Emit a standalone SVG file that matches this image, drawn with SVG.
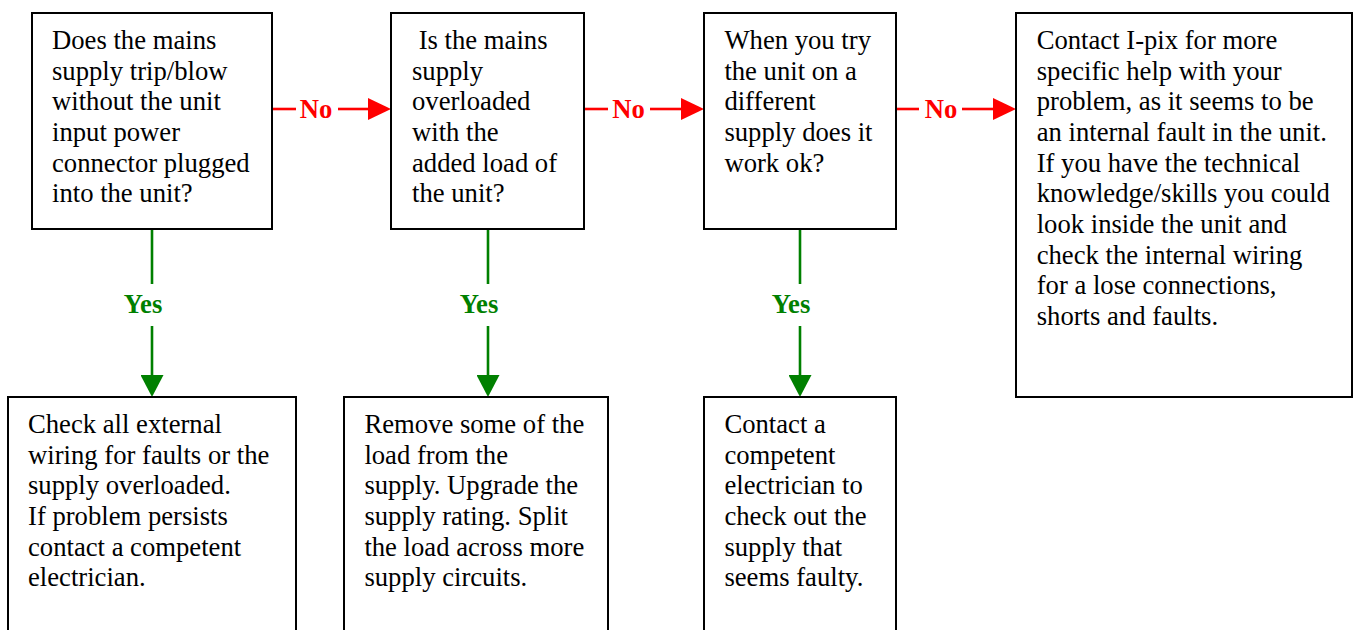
<svg xmlns="http://www.w3.org/2000/svg" width="1353" height="630" viewBox="0 0 1353 630">
<style>
.box{fill:#fff;stroke:#000;stroke-width:2}
.t{font-family:"Liberation Serif","Times New Roman",serif;font-size:26.67px;fill:#000}
.no{font-family:"Liberation Serif","Times New Roman",serif;font-size:26.67px;font-weight:bold;fill:#ff0000;text-anchor:middle}
.yes{font-family:"Liberation Serif","Times New Roman",serif;font-size:26.67px;font-weight:bold;fill:#008000;text-anchor:middle}
.rl{stroke:#ff0000;stroke-width:2.6;fill:none}
.gl{stroke:#008000;stroke-width:2.6;fill:none}
</style>
<defs>
<marker id="ar" markerUnits="userSpaceOnUse" viewBox="0 -11 23 22" refX="0" refY="0" markerWidth="23" markerHeight="22" orient="auto"><path d="M0,-11 L23,0 L0,11 Z" fill="#ff0000"/></marker>
<marker id="ag" markerUnits="userSpaceOnUse" viewBox="0 -11.5 22 23" refX="0" refY="0" markerWidth="22" markerHeight="23" orient="auto"><path d="M0,-11.5 L22,0 L0,11.5 Z" fill="#008000"/></marker>
</defs>
<rect width="1353" height="630" fill="#fff"/>
<g id="connectors">
<line class="rl" x1="272" y1="109" x2="296" y2="109"/>
<line class="rl" x1="338" y1="109" x2="368" y2="109" marker-end="url(#ar)"/>
<text class="no" x="316" y="118">No</text>
<line class="rl" x1="584" y1="109" x2="608" y2="109"/>
<line class="rl" x1="650" y1="109" x2="681" y2="109" marker-end="url(#ar)"/>
<text class="no" x="628.5" y="118">No</text>
<line class="rl" x1="896" y1="109" x2="919" y2="109"/>
<line class="rl" x1="962" y1="109" x2="993" y2="109" marker-end="url(#ar)"/>
<text class="no" x="941" y="118">No</text>
<line class="gl" x1="152" y1="229" x2="152" y2="284"/>
<line class="gl" x1="152" y1="326" x2="152" y2="375" marker-end="url(#ag)"/>
<text class="yes" x="143" y="313">Yes</text>
<line class="gl" x1="488" y1="229" x2="488" y2="284"/>
<line class="gl" x1="488" y1="326" x2="488" y2="375" marker-end="url(#ag)"/>
<text class="yes" x="479" y="313">Yes</text>
<line class="gl" x1="800" y1="229" x2="800" y2="284"/>
<line class="gl" x1="800" y1="326" x2="800" y2="375" marker-end="url(#ag)"/>
<text class="yes" x="791" y="313">Yes</text>
</g>
<g id="q1">
<rect class="box" x="32" y="13" width="240" height="216"/>
<text class="t"><tspan x="52" y="49">Does the mains</tspan><tspan x="52" y="79.7">supply trip/blow</tspan><tspan x="52" y="110.3">without the unit</tspan><tspan x="52" y="141">input power</tspan><tspan x="52" y="171.7">connector plugged</tspan><tspan x="52" y="202.3">into the unit?</tspan></text>
</g>
<g id="q2">
<rect class="box" x="391" y="13" width="193" height="216"/>
<text class="t"><tspan x="418.7" y="49">Is the mains</tspan><tspan x="412" y="79.7">supply</tspan><tspan x="412" y="110.3">overloaded</tspan><tspan x="412" y="141">with the</tspan><tspan x="412" y="171.7">added load of</tspan><tspan x="412" y="202.3">the unit?</tspan></text>
</g>
<g id="q3">
<rect class="box" x="704" y="13" width="192" height="216"/>
<text class="t"><tspan x="724.4" y="49">When you try</tspan><tspan x="724.4" y="79.7">the unit on a</tspan><tspan x="724.4" y="110.3">different</tspan><tspan x="724.4" y="141">supply does it</tspan><tspan x="724.4" y="171.7">work ok?</tspan></text>
</g>
<g id="r4">
<rect class="box" x="1016" y="13" width="336" height="384"/>
<text class="t"><tspan x="1036.7" y="49">Contact I-pix for more</tspan><tspan x="1036.7" y="79.7">specific help with your</tspan><tspan x="1036.7" y="110.3">problem, as it seems to be</tspan><tspan x="1036.7" y="141">an internal fault in the unit.</tspan><tspan x="1036.7" y="171.7">If you have the technical</tspan><tspan x="1036.7" y="202.3">knowledge/skills you could</tspan><tspan x="1036.7" y="233">look inside the unit and</tspan><tspan x="1036.7" y="263.7">check the internal wiring</tspan><tspan x="1036.7" y="294.3">for a lose connections,</tspan><tspan x="1036.7" y="325">shorts and faults.</tspan></text>
</g>
<g id="r1">
<rect class="box" x="8" y="397" width="288" height="250"/>
<text class="t"><tspan x="28" y="433">Check all external</tspan><tspan x="28" y="463.7">wiring for faults or the</tspan><tspan x="28" y="494.3">supply overloaded.</tspan><tspan x="28" y="525">If problem persists</tspan><tspan x="28" y="555.7">contact a competent</tspan><tspan x="28" y="586.3">electrician.</tspan></text>
</g>
<g id="r2">
<rect class="box" x="344" y="397" width="264" height="250"/>
<text class="t"><tspan x="364.4" y="433">Remove some of the</tspan><tspan x="364.4" y="463.7">load from the</tspan><tspan x="364.4" y="494.3">supply. Upgrade the</tspan><tspan x="364.4" y="525">supply rating. Split</tspan><tspan x="364.4" y="555.7">the load across more</tspan><tspan x="364.4" y="586.3">supply circuits.</tspan></text>
</g>
<g id="r3">
<rect class="box" x="704" y="397" width="192" height="250"/>
<text class="t"><tspan x="724.4" y="433">Contact a</tspan><tspan x="724.4" y="463.7">competent</tspan><tspan x="724.4" y="494.3">electrician to</tspan><tspan x="724.4" y="525">check out the</tspan><tspan x="724.4" y="555.7">supply that</tspan><tspan x="724.4" y="586.3">seems faulty.</tspan></text>
</g>
</svg>
